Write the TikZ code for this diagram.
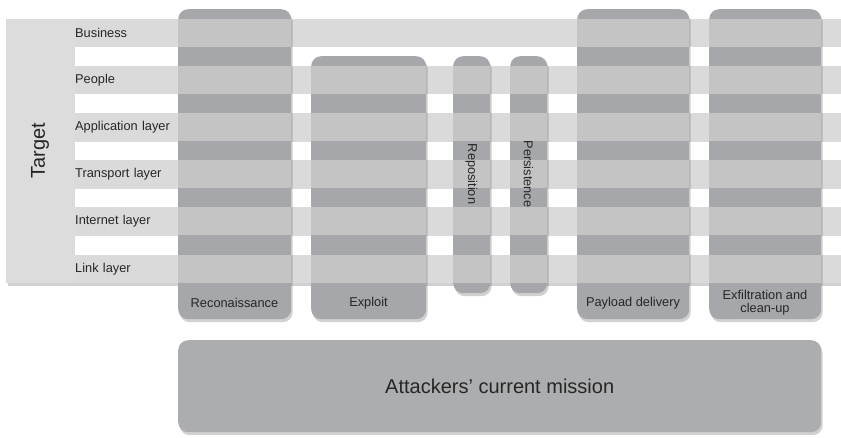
\documentclass[tikz,border=0pt]{standalone}
\usepackage{fontspec}
\setmainfont{Liberation Sans}
\usetikzlibrary{shadows}
\definecolor{panelc}{HTML}{DCDCDC}
\definecolor{rowc}{HTML}{DADADA}
\definecolor{colc}{HTML}{A6A7AA}
\definecolor{rowon}{HTML}{C4C4C5}
\definecolor{missionc}{HTML}{ACADAF}
\definecolor{txt}{HTML}{262626}
\begin{document}
\begin{tikzpicture}[x=1pt,y=-1pt,
  lblfont/.style={font=\fontsize{12.8}{12.8}\selectfont, text=txt},
  bigfont/.style={font=\fontsize{20}{22}\selectfont, text=txt},
  soft/.style={drop shadow={shadow xshift=1.5pt, shadow yshift=-3pt, opacity=0.18, fill=black}},
  panelbox/.style={fill=panelc, draw=none, inner sep=0pt, anchor=north west, soft},
  rowband/.style={fill=rowc, draw=none, anchor=north west, minimum height=28pt,
    minimum width=766pt, text width=766pt, inner xsep=0pt, inner ysep=0pt, align=left, lblfont},
  colbox/.style={fill=colc, draw=none, rounded corners=10pt, inner sep=0pt, anchor=north west, soft},
  collbl/.style={lblfont, align=center, inner sep=0pt},
  missionbox/.style={fill=missionc, draw=none, rounded corners=10pt, inner sep=0pt, anchor=north west, soft, bigfont}
]
\useasboundingbox (0,0) rectangle (841,437);

% Target panel
\node[panelbox, minimum width=835pt, minimum height=264pt] (panel) at (6,19) {};
\fill[white] (75,47) rectangle (841,66);
\fill[white] (75,94) rectangle (841,113);
\fill[white] (75,142) rectangle (841,160);
\fill[white] (75,189) rectangle (841,207);
\fill[white] (75,236) rectangle (841,255);
\node[bigfont, rotate=90] (target) at (40,151) {Target};

% Rows
\node[rowband] (business) at (75,19) {Business};
\node[rowband] (people) at (75,66) {People};
\node[rowband] (app) at (75,113) {Application layer};
\node[rowband] (transport) at (75,160) {Transport layer};
\node[rowband] (internet) at (75,207) {Internet layer};
\node[rowband] (link) at (75,255) {Link layer};

% Columns
\node[colbox, minimum width=113pt, minimum height=310pt] (recon) at (178,9) {};
\node[colbox, minimum width=115pt, minimum height=263pt] (exploit) at (311,56) {};
\node[colbox, minimum width=37pt, minimum height=237pt] (repos) at (453,56) {};
\node[colbox, minimum width=37pt, minimum height=237pt] (persist) at (510,56) {};
\node[colbox, minimum width=112pt, minimum height=310pt] (payload) at (577,9) {};
\node[colbox, minimum width=112pt, minimum height=310pt] (exfil) at (709,9) {};

% Rows over columns
\begin{scope}
  \clip[rounded corners=10pt]
    (recon.north west) rectangle (recon.south east)
    (exploit.north west) rectangle (exploit.south east)
    (repos.north west) rectangle (repos.south east)
    (persist.north west) rectangle (persist.south east)
    (payload.north west) rectangle (payload.south east)
    (exfil.north west) rectangle (exfil.south east);
  \foreach \r in {business,people,app,transport,internet,link}
    \fill[rowon] (\r.north west) rectangle (\r.south east);
\end{scope}

% Column labels
\node[collbl] (reconL) at (234.5,303) {Reconaissance};
\node[collbl] (exploitL) at (368.5,303) {Exploit};
\node[collbl, rotate=-90] (reposL) at (471.5,174) {Reposition};
\node[collbl, rotate=-90] (persistL) at (528.5,174) {Persistence};
\node[collbl] (payloadL) at (633,303) {Payload delivery};
\node[collbl] (exfilL) at (765,303) {Exfiltration and\\clean-up};

% Mission
\node[missionbox, minimum width=643pt, minimum height=92pt] (mission) at (178,340) {};
\node[bigfont] (missionL) at (mission.center) {Attackers’ current mission};
\end{tikzpicture}
\end{document}
